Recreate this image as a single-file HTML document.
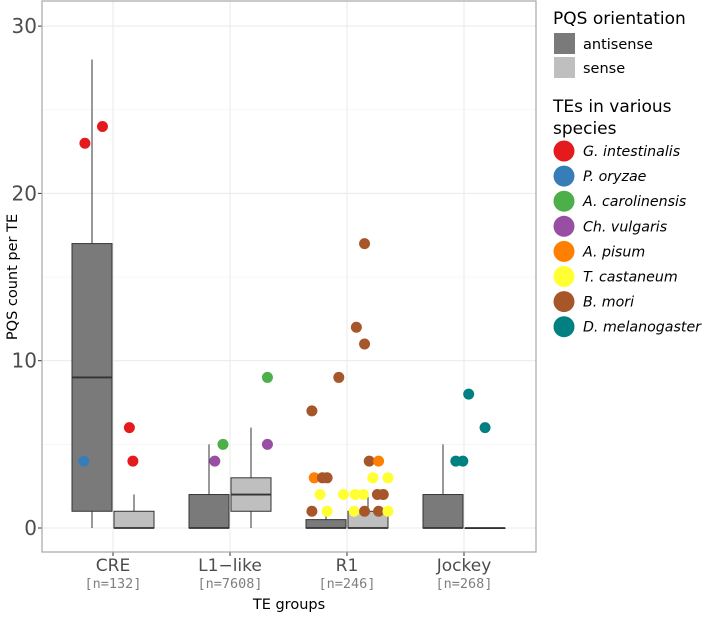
<!DOCTYPE html>
<html><head><meta charset="utf-8"><style>
body{margin:0;background:#fff;width:708px;height:614px;overflow:hidden;font-family:"DejaVu Sans","Liberation Sans",sans-serif}
svg text{font-family:"DejaVu Sans","Liberation Sans",sans-serif}
svg text.mono{font-family:"DejaVu Sans Mono","Liberation Mono",monospace}
</style></head><body>
<svg width="708" height="614" xmlns="http://www.w3.org/2000/svg">
<g id="plot"></g>
</svg>
<script>
const categories=["CRE","L1\u2212like","R1","Jockey"];
const counts=["[n=132]","[n=7608]","[n=246]","[n=268]"];
const yTicks=[0,10,20,30];
// [lowWhisker,q1,median,q3,highWhisker]
const antisenseStats=[[0,1,9,17,28],[0,0,0,2,5],[0,0,0,0.5,1],[0,0,0,2,5]];
const senseStats=[[0,0,0,1,2],[0,1,2,3,6],[0,0,0,1,2],[0,0,0,0,0]];
const speciesNames=["G. intestinalis","P. oryzae","A. carolinensis","Ch. vulgaris","A. pisum","T. castaneum","B. mori","D. melanogaster"];
const speciesColors=["#e41a1c","#377eb8","#4daf4a","#984ea3","#ff7f00","#ffff33","#a65628","#008080"];
// points: category index, jitter offset (category units), value, species index
const pointCat=[0,0,0,0,0, 1,1,1,1, 2,2,2,2,2,2,2,2,2,2,2, 2,2,2,2,2,2,2,2,2,2,2,2,2, 3,3,3,3];
const pointJit=[-0.24,-0.09,-0.25,0.14,0.17, -0.06,-0.13,0.32,0.32, 0.15,0.08,0.15,-0.07,-0.30,-0.28,-0.21,-0.17,-0.23,-0.30,-0.17, 0.19,0.27,0.22,0.35,0.07,0.14,0.26,0.31,0.06,0.15,0.27,0.35,-0.03, -0.07,-0.01,0.04,0.18];
const pointVal=[23,24,4,6,4, 5,4,9,5, 17,12,11,9,7,3,3,3,2,1,1, 4,4,3,3,2,2,2,2,1,1,1,1,2, 4,4,8,6];
const pointSp=[0,0,1,0,0, 2,3,2,3, 6,6,6,6,6,4,6,6,5,6,5, 6,4,5,5,5,5,6,6,5,6,6,5,5, 7,7,7,7];

const NS="http://www.w3.org/2000/svg";
const g=document.getElementById('plot');
const L=42,R=536,T=1,B=552;
const y=v=>528-v*16.73;
const x=i=>113+i*117;
function mk(t,a,p){const e=document.createElementNS(NS,t);for(const k in a)e.setAttribute(k,a[k]);(p||g).appendChild(e);return e;}
mk('rect',{x:L,y:T,width:R-L,height:B-T,fill:'#fff',stroke:'none'});
[5,15,25].forEach(v=>mk('line',{x1:L,x2:R,y1:y(v),y2:y(v),stroke:'#f2f2f2','stroke-width':0.6}));
yTicks.forEach(v=>{const l=mk('line',{x1:L,x2:R,y1:y(v),y2:y(v),stroke:'#ebebeb','stroke-width':1.1});

mk('line',{x1:L-4,x2:L,y1:y(v),y2:y(v),stroke:'#333'});
const t=mk('text',{x:L-5,y:y(v)+7,'text-anchor':'end','font-size':20,fill:'#4d4d4d'});t.textContent=v;
});
categories.forEach((c,i)=>{mk('line',{x1:x(i),x2:x(i),y1:T,y2:B,stroke:'#ebebeb','stroke-width':1.1});
mk('line',{x1:x(i),x2:x(i),y1:B,y2:B+4,stroke:'#333'});
const t=mk('text',{x:x(i),y:571,'text-anchor':'middle','font-size':17,fill:'#4d4d4d'});t.textContent=c;

const n=mk('text',{x:x(i),y:588,'text-anchor':'middle','font-size':13.5,fill:'#7f7f7f','class':'mono'});n.textContent=counts[i];
});
function box(s,cx,fill,name){const gg=mk('g',{});
mk('line',{x1:cx,x2:cx,y1:y(s[0]),y2:y(s[4]),stroke:'#333','stroke-width':1},gg);
mk('rect',{x:cx-20,y:y(s[3]),width:40,height:Math.max(y(s[1])-y(s[3]),0.5),fill:fill,stroke:'#333','stroke-width':1},gg);
mk('line',{x1:cx-20,x2:cx+20,y1:y(s[2]),y2:y(s[2]),stroke:'#333','stroke-width':1.8},gg);}
categories.forEach((c,i)=>{box(antisenseStats[i],x(i)-21,'#7a7a7a','antisense-box');box(senseStats[i],x(i)+21,'#bfbfbf','sense-box');});
pointVal.forEach((v,k)=>{const c=mk('circle',{cx:x(pointCat[k])+pointJit[k]*117,cy:y(v),r:5.5,fill:speciesColors[pointSp[k]]});
});
mk('rect',{x:L,y:T,width:R-L,height:B-T,fill:'none',stroke:'#a6a6a6','stroke-width':1.2});
let t=mk('text',{x:0,y:0,transform:'translate(17,277) rotate(-90)','text-anchor':'middle','font-size':14.5,fill:'#000'});t.textContent='PQS count per TE';

t=mk('text',{x:289,y:609,'text-anchor':'middle','font-size':14.5,fill:'#000'});t.textContent='TE groups';

// legend
t=mk('text',{x:553,y:24,'font-size':17});t.textContent='PQS orientation';
[['antisense','#7a7a7a'],['sense','#bfbfbf']].forEach((d,i)=>{mk('rect',{x:554,y:33+i*24,width:21,height:21,fill:d[1]});
const l=mk('text',{x:583,y:49+i*24,'font-size':14.5});l.textContent=d[0];});
t=mk('text',{x:553,y:112,'font-size':17});t.textContent='TEs in various';
t=mk('text',{x:553,y:134,'font-size':17});t.textContent='species';
speciesNames.forEach((s,i)=>{const cy=151+i*25.1;mk('circle',{cx:564,cy:cy,r:10.5,fill:speciesColors[i]});
const l=mk('text',{x:583,y:cy+5,'font-size':14.2,'font-style':'italic'});l.textContent=s;});
</script>
</body></html>
